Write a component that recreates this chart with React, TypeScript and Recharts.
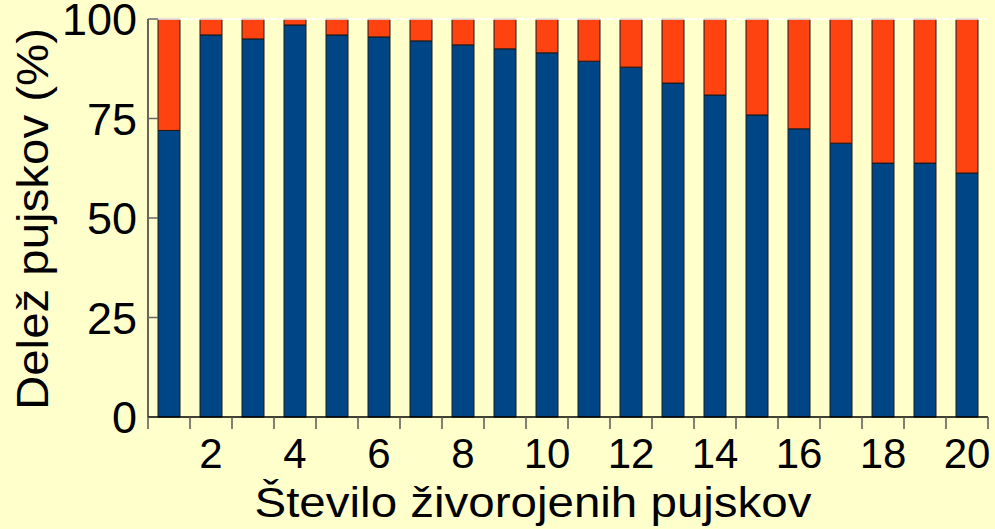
import React from 'react';
import { BarChart, Bar, XAxis, YAxis, ReferenceLine } from 'recharts';

const categories = [1, 2, 3, 4, 5, 6, 7, 8, 9, 10, 11, 12, 13, 14, 15, 16, 17, 18, 19, 20];
const liveShare = [72, 96, 95, 98.5, 96, 95.5, 94.5, 93.5, 92.5, 91.5, 89.4, 87.9, 83.9, 80.9, 75.9, 72.4, 68.8, 63.8, 63.8, 61.3];
const otherShare = [28, 4, 5, 1.5, 4, 4.5, 5.5, 6.5, 7.5, 8.5, 10.6, 12.1, 16.1, 19.1, 24.1, 27.6, 31.2, 36.2, 36.2, 38.7];
const yTicks = [0, 25, 50, 75, 100];
const xTitle = 'Število živorojenih pujskov';
const yTitle = 'Delež pujskov (%)';

const data = categories.map((n, i) => ({ n, live: liveShare[i], other: otherShare[i] }));

const W = 995;
const H = 529;
const M = { top: 19, right: 7, left: 0, bottom: 0 };
const Y_W = 148;
const X_H = 112;
const PLOT_W = W - M.left - M.right - Y_W;
const BAND = PLOT_W / categories.length;
const FONT = '"Liberation Sans", Arial, sans-serif';

const XTick = (props: any) => {
  const { x, y, payload } = props;
  const v = payload.value;
  const half = BAND / 2;
  return (
    <g>
      <line x1={x - half} x2={x - half} y1={y} y2={y + 12} stroke="#555" strokeWidth={1.5} />
      {v === categories[categories.length - 1] && (
        <line x1={x + half} x2={x + half} y1={y} y2={y + 12} stroke="#555" strokeWidth={1.5} />
      )}
      {v % 2 === 0 && (
        <text x={x} y={y + 51} textAnchor="middle" fontSize={42} fontFamily={FONT} fill="#000">
          {v}
        </text>
      )}
    </g>
  );
};

const YTick = (props: any) => {
  const { x, y, payload } = props;
  return (
    <g>
      {payload.value !== 0 && (
        <line x1={x} x2={x + 10} y1={y} y2={y} stroke="#666" strokeWidth={1.5} />
      )}
      <text x={x - 11} y={y + 16} textAnchor="end" fontSize={45} fontFamily={FONT} fill="#000">
        {payload.value}
      </text>
    </g>
  );
};

const XTitle = (props: any) => {
  const vb = props.viewBox;
  const cx = vb.x + vb.width / 2 - 35;
  return (
    <text
      x={cx}
      y={vb.y + 100}
      textAnchor="middle"
      fontSize={42}
      fontFamily={FONT}
      fill="#000"
      textLength={557}
      lengthAdjust="spacingAndGlyphs"
    >
      {xTitle}
    </text>
  );
};

const YTitle = (props: any) => {
  const vb = props.viewBox;
  const cx = 48;
  const cy = vb.y + vb.height / 2 + 1;
  return (
    <text
      x={cx}
      y={cy}
      transform={`rotate(-90, ${cx}, ${cy})`}
      textAnchor="middle"
      fontSize={44}
      fontFamily={FONT}
      fill="#000"
      textLength={382}
      lengthAdjust="spacingAndGlyphs"
    >
      {yTitle}
    </text>
  );
};

export default function App() {
  return (
    <div style={{ position: 'absolute', left: 0, top: 0, width: W, height: H, background: '#FFFFCC' }}>
      <BarChart width={W} height={H} data={data} margin={M} barSize={22}>
        <XAxis
          dataKey="n"
          type="category"
          interval={0}
          height={X_H}
          tickSize={0}
          tickMargin={0}
          tickLine={false}
          tick={<XTick />}
          axisLine={{ stroke: '#000', strokeWidth: 1.5 }}
          label={<XTitle />}
        />
        <YAxis
          domain={[0, 100]}
          ticks={yTicks}
          width={Y_W}
          tickSize={0}
          tickMargin={0}
          tickLine={false}
          tick={<YTick />}
          axisLine={{ stroke: '#333', strokeWidth: 1.5 }}
          label={<YTitle />}
        />
        <YAxis
          yAxisId="right"
          orientation="right"
          width={0}
          tick={false}
          tickLine={false}
          axisLine={{ stroke: '#FFFFFF', strokeWidth: 1.5 }}
        />
        <ReferenceLine y={100} stroke="#FFFFFF" strokeWidth={1.5} />
        <Bar dataKey="live" stackId="a" fill="#004586" stroke="#1a1a1a" strokeWidth={1} isAnimationActive={false} />
        <Bar dataKey="other" stackId="a" fill="#FF4310" stroke="#1a1a1a" strokeWidth={1} isAnimationActive={false} />
      </BarChart>
    </div>
  );
}
